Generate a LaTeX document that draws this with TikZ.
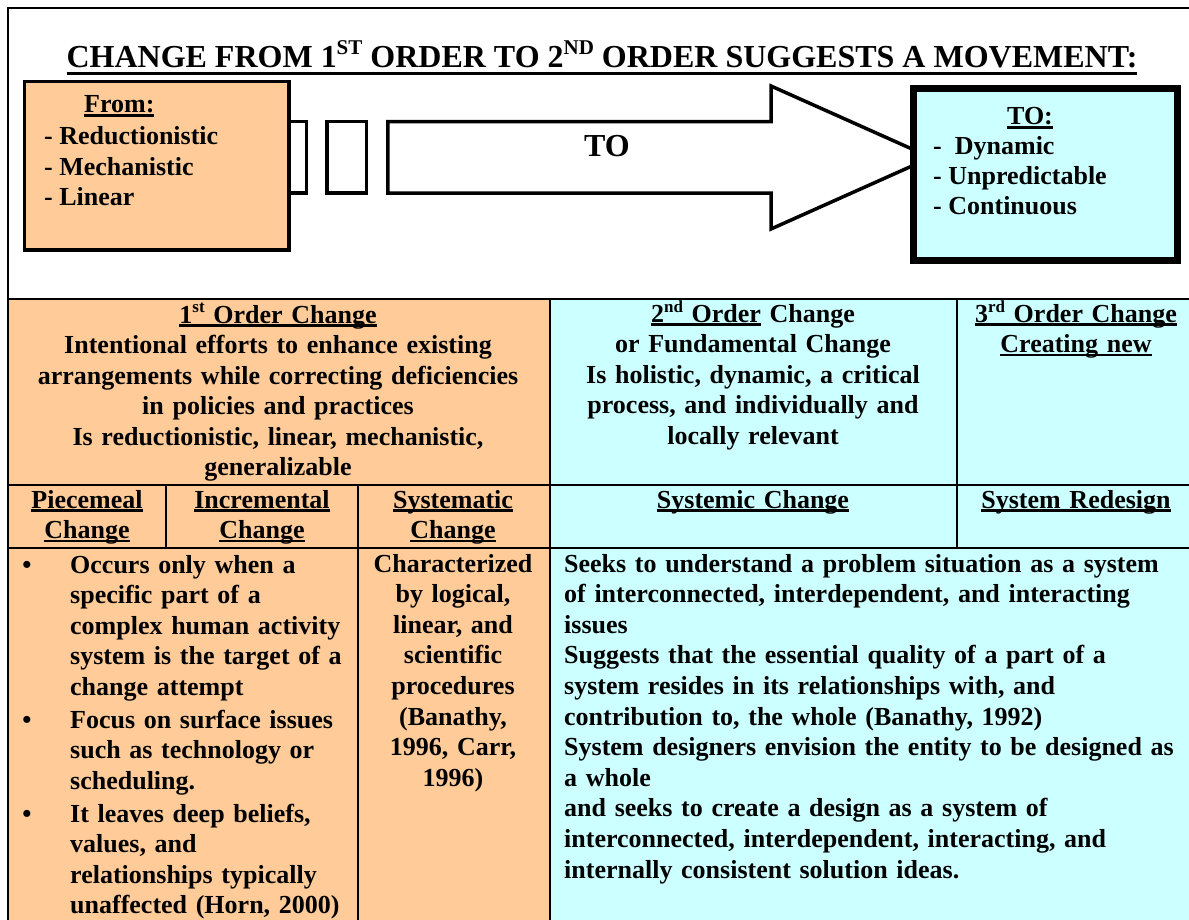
\documentclass[tikz,border=0pt]{standalone}
\usepackage{fontspec}
\setmainfont{Liberation Serif}
\definecolor{peach}{HTML}{FFCC99}
\definecolor{aqua}{HTML}{CCFFFF}
% underline with given depth and thickness
\newcommand\ulx[3]{\leavevmode\setbox0\hbox{#3}\rlap{\rule[#1]{\wd0}{#2}}\box0\relax}
\newcommand\uln[1]{\ulx{-3.6pt}{2.2pt}{#1}}
\newcommand\supT[1]{\raisebox{13pt}{\fontsize{21}{21}\selectfont #1}}
\newcommand\supB[1]{\raisebox{10pt}{\fontsize{17}{17}\selectfont #1}}
\begin{document}
\begin{tikzpicture}[x=1pt,y=-1pt,
  body/.style={font=\fontsize{26}{30.6}\selectfont\bfseries, inner sep=0pt},
  big/.style={font=\fontsize{32}{36}\selectfont\bfseries, inner sep=0pt},
  cell/.style={draw, line width=2.2pt, anchor=north west, inner sep=0pt},
  pcell/.style={cell, fill=peach},
  acell/.style={cell, fill=aqua},
  ctext/.style={body, anchor=base, align=center},
  ltext/.style={body, anchor=base west, align=left},
  outline/.style={draw, line width=3.5pt, line join=miter}]
\useasboundingbox (0,0) rectangle (1189,920);
\clip (0,0) rectangle (1189,920);
\fill[white] (0,0) rectangle (1189,920);

% upper frame
\node[draw, line width=2pt, anchor=north west, inner sep=0pt,
      minimum width=1200pt, minimum height=291pt] (frame) at (7,7) {};

% heading
\node[big, anchor=base] (title) at (602,68)
  {\ulx{-7.5pt}{3pt}{CHANGE FROM 1\supT{ST} ORDER TO 2\supT{ND} ORDER SUGGESTS A MOVEMENT:}};

% movement arrow with the two leading blocks
\draw[outline, fill=white] (262,121.75) rectangle (306.25,193.25);
\draw[outline, fill=white] (326.75,121.75) rectangle (366.25,193.25);
\draw[outline, fill=white] (387.75,121.75) -- (771,121.75) -- (771,86) -- (931,157.5)
  -- (771,229) -- (771,193.25) -- (387.75,193.25) -- cycle;
\node[big, anchor=base] (tolabel) at (607,157) {TO};

% from box
\node[outline, fill=peach, anchor=north west, inner sep=0pt,
      minimum width=264.5pt, minimum height=168.5pt] (from) at (22.75,79.75) {};
\node[body, anchor=base west] (fromhead) at (84,113) {\uln{From:}};
\node[body, anchor=base west] (from1) at (44,145) {- Reductionistic};
\node[body, anchor=base west] (from2) at (44,175.5) {- Mechanistic};
\node[body, anchor=base west] (from3) at (44,206) {- Linear};

% to box
\node[draw, line width=7pt, fill=aqua, anchor=north west, inner sep=0pt,
      minimum width=264pt, minimum height=172pt] (tobox) at (909.5,85.5) {};
\node[body, anchor=base] (tohead) at (1030,125) {\uln{TO:}};
\node[body, anchor=base west] (to1) at (933,155) {-\ \ Dynamic};
\node[body, anchor=base west] (to2) at (933,184.5) {- Unpredictable};
\node[body, anchor=base west] (to3) at (933,215) {- Continuous};

% table: first row
\node[pcell, minimum width=542pt, minimum height=186pt] (r1a) at (7,298) {};
\node[acell, minimum width=407pt, minimum height=186pt] (r1b) at (549,298) {};
\node[acell, minimum width=250pt, minimum height=186pt] (r1c) at (956,298) {};
% second row
\node[pcell, minimum width=158pt, minimum height=63pt] (r2a) at (7,484) {};
\node[pcell, minimum width=192pt, minimum height=63pt] (r2b) at (165,484) {};
\node[pcell, minimum width=192pt, minimum height=63pt] (r2c) at (357,484) {};
\node[acell, minimum width=407pt, minimum height=63pt] (r2d) at (549,484) {};
\node[acell, minimum width=250pt, minimum height=63pt] (r2e) at (956,484) {};
% third row
\node[pcell, minimum width=350pt, minimum height=400pt] (r3a) at (7,547) {};
\node[pcell, minimum width=192pt, minimum height=400pt] (r3b) at (357,547) {};
\node[acell, minimum width=657pt, minimum height=400pt] (r3c) at (549,547) {};

% first row texts
\node[ctext, text width=536pt] (t1a) at (278,323) {\uln{1\supB{st} Order Change}\\
  Intentional efforts to enhance existing\\
  arrangements while correcting deficiencies\\
  in policies and practices\\
  Is reductionistic, linear, mechanistic,\\
  generalizable};
\node[ctext, text width=400pt] (t1b) at (753,322) {\uln{2\supB{nd} Order} Change\\
  or Fundamental Change\\
  Is holistic, dynamic, a critical\\
  process, and individually and\\
  locally relevant};
\node[ctext, text width=236pt] (t1c) at (1076,322) {\uln{3\supB{rd} Order Change}\\
  \uln{Creating new}};

% second row texts
\node[ctext, text width=156pt] (t2a) at (87,508) {\uln{Piecemeal}\\\uln{Change}};
\node[ctext, text width=190pt] (t2b) at (262,508) {\uln{Incremental}\\\uln{Change}};
\node[ctext, text width=190pt] (t2c) at (453,508) {\uln{Systematic}\\\uln{Change}};
\node[ctext, text width=400pt] (t2d) at (753,508) {\uln{Systemic Change}};
\node[ctext, text width=236pt] (t2e) at (1076,508) {\uln{System Redesign}};

% third row: bulleted list
\node[body, anchor=base] (b1) at (27,573) {\textbullet};
\node[ltext, text width=285pt] (l1) at (70,573) {Occurs only when a\\
  specific part of a\\
  complex human activity\\
  system is the target of a\\
  change attempt};
\node[body, anchor=base] (b2) at (27,728) {\textbullet};
\node[ltext, text width=285pt] (l2) at (70,728) {Focus on surface issues\\
  such as technology or\\
  scheduling.};
\node[body, anchor=base] (b3) at (27,822) {\textbullet};
\node[ltext, text width=285pt] (l3) at (70,822) {It leaves deep beliefs,\\
  values, and\\
  relationships typically\\
  unaffected (Horn, 2000)};

\node[ctext, text width=190pt] (t3b) at (453,572) {Characterized\\
  by logical,\\
  linear, and\\
  scientific\\
  procedures\\
  (Banathy,\\
  1996, Carr,\\
  1996)};

\node[ltext, text width=660pt] (t3c) at (564,572) {Seeks to understand a problem situation as a system\\
  of interconnected, interdependent, and interacting\\
  issues\\
  Suggests that the essential quality of a part of a\\
  system resides in its relationships with, and\\
  contribution to, the whole (Banathy, 1992)\\
  System designers envision the entity to be designed as\\
  a whole\\
  and seeks to create a design as a system of\\
  interconnected, interdependent, interacting, and\\
  internally consistent solution ideas.};
\end{tikzpicture}
\end{document}
